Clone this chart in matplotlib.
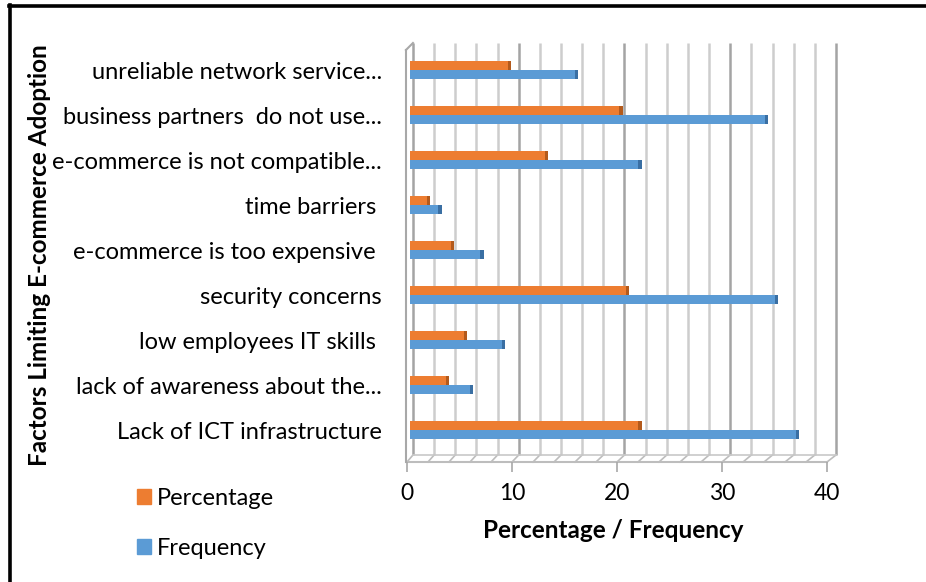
import matplotlib
matplotlib.use("Agg")
import matplotlib.pyplot as plt
from matplotlib.lines import Line2D
from matplotlib.patches import Patch

# ---- data (bottom to top) ----
categories = [
    "Lack of ICT infrastructure",
    "lack of awareness about the...",
    "low employees IT skills ",
    "security concerns",
    "e-commerce is too expensive ",
    "time barriers ",
    "e-commerce is not compatible...",
    "business partners  do not use...",
    "unreliable network service...",
]
frequency = [37, 6, 9, 35, 7, 3, 22, 34, 16]
percentage = [22.0, 3.7, 5.4, 20.8, 4.2, 1.9, 13.1, 20.2, 9.6]
xticks = [0, 10, 20, 30, 40]
grid_vals = list(range(0, 41, 2))

ORANGE = "#ED7D31"
ORANGE_D = "#B35A1C"
BLUE = "#5B9BD5"
BLUE_D = "#3A6FA3"
FONT = "Lato"

W, H = 926, 582
fig = plt.figure(figsize=(W / 100, H / 100), dpi=100)
fig.patch.set_facecolor("white")

# axes: x data -> px = 407 + 10.6*v ; y: 45 px per unit
x0_px, sx = 407.0, 10.6
ymin, ymax = -0.71, 8.6
ax_bottom_px, ax_top_px = 462.0, 43.0
ax = fig.add_axes([x0_px / W, 1 - ax_bottom_px / H, 40 * sx / W, (ax_bottom_px - ax_top_px) / H])
ax.set_xlim(0, 40)
ax.set_ylim(ymin, ymax)
for s in ax.spines.values():
    s.set_visible(False)
ax.set_facecolor("none")

def front_x(v):  # front-floor position in data units
    return (404 + 10.575 * v - x0_px) / sx

def back_x(v):  # back-wall position in data units
    return (410 + 10.65 * v - x0_px) / sx

py = 1 / 45.0  # data units per pixel vertically
y_front = ymin
y_back = ymin + 7 * py

# back wall gridlines
for v in grid_vals:
    major = v % 10 == 0
    col = "#A4A4A4" if major else "#CDCDCD"
    ax.plot([back_x(v), back_x(v)], [y_back, ymax], color=col, lw=1.8,
            clip_on=False, zorder=1, solid_capstyle="butt")
    ax.plot([front_x(v), back_x(v)], [y_front, y_back], color="#BDBDBD", lw=1.2,
            clip_on=False, zorder=1)
# floor edges
ax.plot([front_x(0), front_x(40)], [y_front, y_front], color="#BDBDBD", lw=1.5, clip_on=False, zorder=1)
ax.plot([back_x(0), back_x(40)], [y_back, y_back], color="#C8C8C8", lw=1.2, clip_on=False, zorder=1)
# left wall
ax.plot([front_x(0) - 0.1, front_x(0) - 0.1], [y_front, ymax - 7 * py], color="#A8A8A8", lw=1.5, clip_on=False, zorder=1)
ax.plot([front_x(0) - 0.1, back_x(0)], [ymax - 7 * py, ymax], color="#A8A8A8", lw=1.5, clip_on=False, zorder=1)

# bars
y = list(range(len(categories)))
h = 0.21
ax.barh([i + h / 2 for i in y], percentage, height=h, color=ORANGE, zorder=3, label="Percentage")
ax.barh([i - h / 2 for i in y], frequency, height=h, color=BLUE, zorder=3, label="Frequency")
cap = 0.3
ax.barh([i + h / 2 for i in y], [cap] * len(y), left=[p - cap for p in percentage], height=h,
        color=ORANGE_D, zorder=4)
ax.barh([i - h / 2 for i in y], [cap] * len(y), left=[f - cap for f in frequency], height=h,
        color=BLUE_D, zorder=4)

# x ticks on front floor
ax.set_xticks([front_x(v) for v in xticks])
ax.set_xticklabels([str(v) for v in xticks], fontsize=16.5, family=FONT)
ax.tick_params(axis="x", length=7, width=1.2, color="#A8A8A8", pad=8)
ax.set_yticks(y)
ax.set_yticklabels(categories, fontsize=17, family=FONT)
ax.tick_params(axis="y", length=0, pad=18)

ax.set_xlabel("Percentage / Frequency", fontsize=17.5, family=FONT, fontweight="bold")
ax.xaxis.set_label_coords((613 - x0_px) / (40 * sx), -(530 - ax_bottom_px) / (ax_bottom_px - ax_top_px))
ax.xaxis.label.set_va("center")

fig.text(40 / W, 1 - 255 / H, "Factors Limiting E-commerce Adoption", rotation=90,
         ha="center", va="center", fontsize=17.5, family=FONT, fontweight="bold")

# legend
handles = [Patch(color=ORANGE, label="Percentage"), Patch(color=BLUE, label="Frequency")]
fig.legend(handles=handles, loc="upper left", bbox_to_anchor=(116 / W, 1 - 467 / H),
           frameon=False, prop={"family": FONT, "size": 17},
           handlelength=0.6, handleheight=0.6, handletextpad=0.25, labelspacing=1.2)

# frame
fig.add_artist(Line2D([9.5 / W, 9.5 / W], [0, 1 - 5 / H], color="black", lw=2.6, transform=fig.transFigure))
fig.add_artist(Line2D([8.5 / W, 1], [1 - 5.5 / H, 1 - 5.5 / H], color="black", lw=2.6, transform=fig.transFigure))

fig.savefig("out.png", dpi=100)
